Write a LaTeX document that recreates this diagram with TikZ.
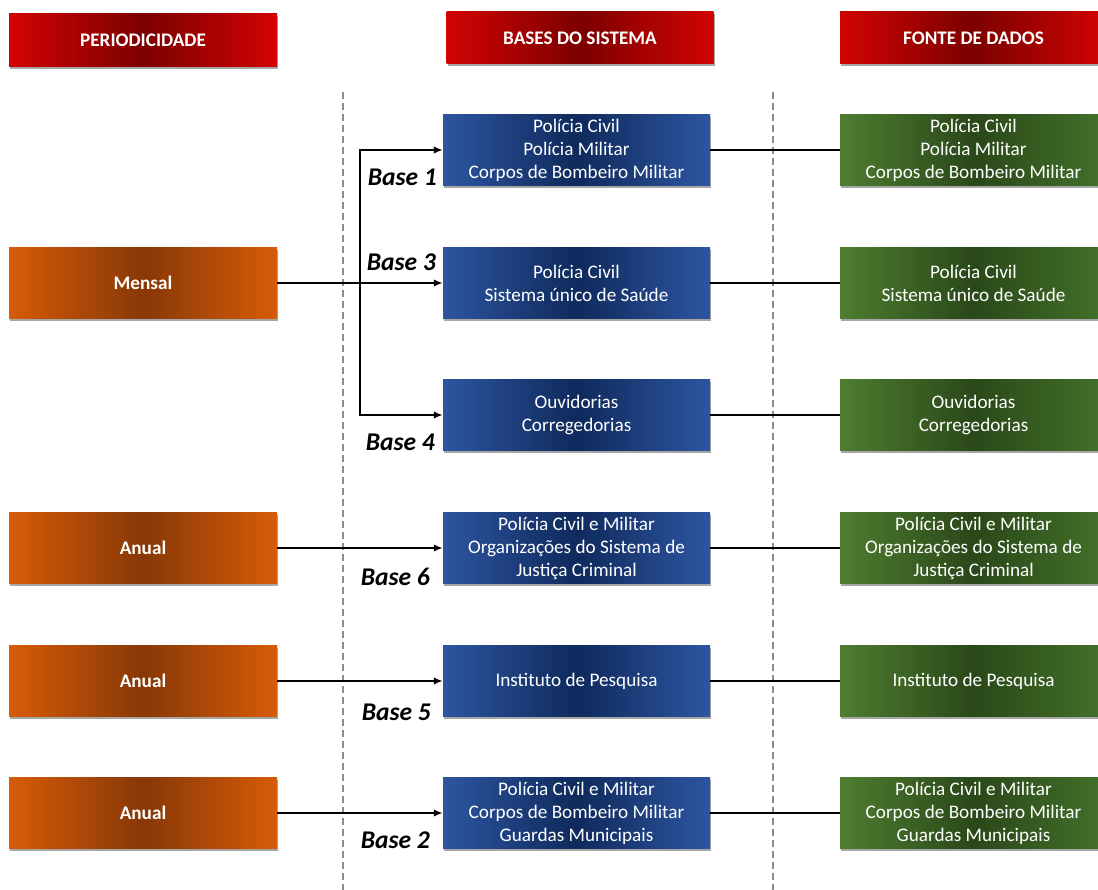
\documentclass[tikz,border=0pt]{standalone}
\usepackage{fontspec}
\setmainfont{Carlito}
\usetikzlibrary{shadows,arrows.meta}

\definecolor{redEdge}{HTML}{D20303}
\definecolor{redMid}{HTML}{7C0000}
\definecolor{orgEdge}{HTML}{D65C08}
\definecolor{orgMid}{HTML}{883806}
\definecolor{bluEdge}{HTML}{2D55A0}
\definecolor{bluMid}{HTML}{0F2A5C}
\definecolor{grnLeft}{HTML}{4E7D30}
\definecolor{grnMid}{HTML}{2A4819}
\definecolor{grnRight}{HTML}{43712A}
\definecolor{dashGray}{HTML}{8C8C8C}

\tikzset{
  box/.style={rectangle, minimum width=267pt, minimum height=71pt, inner sep=0pt,
    text=white, align=center,
    drop shadow={shadow xshift=1.2pt, shadow yshift=-2.2pt, opacity=0.35, fill=black}},
  hdr/.style={box, minimum height=52pt,
    left color=redEdge, right color=redEdge, middle color=redMid,
    font=\fontsize{19.2}{22}\selectfont\bfseries},
  period/.style={box, left color=orgEdge, right color=orgEdge, middle color=orgMid,
    font=\fontsize{19.2}{22}\selectfont\bfseries},
  basebox/.style={box, left color=bluEdge, right color=bluEdge, middle color=bluMid,
    font=\fontsize{19.2}{23}\selectfont},
  srcbox/.style={box, left color=grnLeft, right color=grnRight, middle color=grnMid,
    font=\fontsize{19.2}{23}\selectfont},
  baselbl/.style={font=\fontsize{25.5}{27}\selectfont\bfseries\itshape, anchor=east, inner sep=0pt},
  link/.style={line width=2pt, black},
  arr/.style={link, -{Latex[length=9pt,width=7.5pt]}},
  divider/.style={dashGray, line width=2pt, dash pattern=on 7pt off 4pt}
}

\begin{document}
\begin{tikzpicture}[x=1pt, y=-1pt]
\useasboundingbox (0,0) rectangle (1098,890);

% column dividers
\coordinate (d1t) at (343,92);  \coordinate (d1b) at (343,890);
\coordinate (d2t) at (773,92);  \coordinate (d2b) at (773,890);
\draw[divider] (d1t) -- (d1b);
\draw[divider] (d2t) -- (d2b);

% column headers
\node[hdr, minimum width=268pt, minimum height=53pt] (hP) at (143,40.5) {PERIODICIDADE};
\node[hdr] (hB) at (580,38) {BASES DO SISTEMA};
\node[hdr] (hF) at (973.5,38) {FONTE DE DADOS};

% periodicity
\node[period, minimum width=268pt] (m)  at (143,283) {Mensal};
\node[period, minimum width=268pt] (a1) at (143,548) {Anual};
\node[period, minimum width=268pt] (a2) at (143,681) {Anual};
\node[period, minimum width=268pt] (a3) at (143,813) {Anual};

% system bases
\node[basebox] (b1) at (576.5,150) {Polícia Civil\\Polícia Militar\\Corpos de Bombeiro Militar};
\node[basebox] (b3) at (576.5,283) {Polícia Civil\\Sistema único de Saúde};
\node[basebox] (b4) at (576.5,415) {Ouvidorias\\Corregedorias};
\node[basebox] (b6) at (576.5,548) {Polícia Civil e Militar\\Organizações do Sistema de\\Justiça Criminal};
\node[basebox] (b5) at (576.5,681) {Instituto de Pesquisa};
\node[basebox] (b2) at (576.5,813) {Polícia Civil e Militar\\Corpos de Bombeiro Militar\\Guardas Municipais};

% data sources
\node[srcbox] (f1) at (973.5,150) {Polícia Civil\\Polícia Militar\\Corpos de Bombeiro Militar};
\node[srcbox] (f3) at (973.5,283) {Polícia Civil\\Sistema único de Saúde};
\node[srcbox] (f4) at (973.5,415) {Ouvidorias\\Corregedorias};
\node[srcbox] (f6) at (973.5,548) {Polícia Civil e Militar\\Organizações do Sistema de\\Justiça Criminal};
\node[srcbox] (f5) at (973.5,681) {Instituto de Pesquisa};
\node[srcbox] (f2) at (973.5,813) {Polícia Civil e Militar\\Corpos de Bombeiro Militar\\Guardas Municipais};

% base labels
\node[baselbl] (l1) at (437,177) {Base 1};
\node[baselbl] (l3) at (436,262) {Base 3};
\node[baselbl] (l4) at (435,442) {Base 4};
\node[baselbl] (l6) at (430,577) {Base 6};
\node[baselbl] (l5) at (431,712) {Base 5};
\node[baselbl] (l2) at (430,840) {Base 2};

% monthly feed with branches
\coordinate (j) at (360,283);
\draw[arr] (m.east) -- (b3.west);
\draw[arr] (j) |- (b1.west);
\draw[arr] (j) |- (b4.west);

% yearly feeds
\draw[arr] (a1.east) -- (b6.west);
\draw[arr] (a2.east) -- (b5.west);
\draw[arr] (a3.east) -- (b2.west);

% bases to sources
\draw[link] (b1.east) -- (f1.west);
\draw[link] (b3.east) -- (f3.west);
\draw[link] (b4.east) -- (f4.west);
\draw[link] (b6.east) -- (f6.west);
\draw[link] (b5.east) -- (f5.west);
\draw[link] (b2.east) -- (f2.west);
\end{tikzpicture}
\end{document}
